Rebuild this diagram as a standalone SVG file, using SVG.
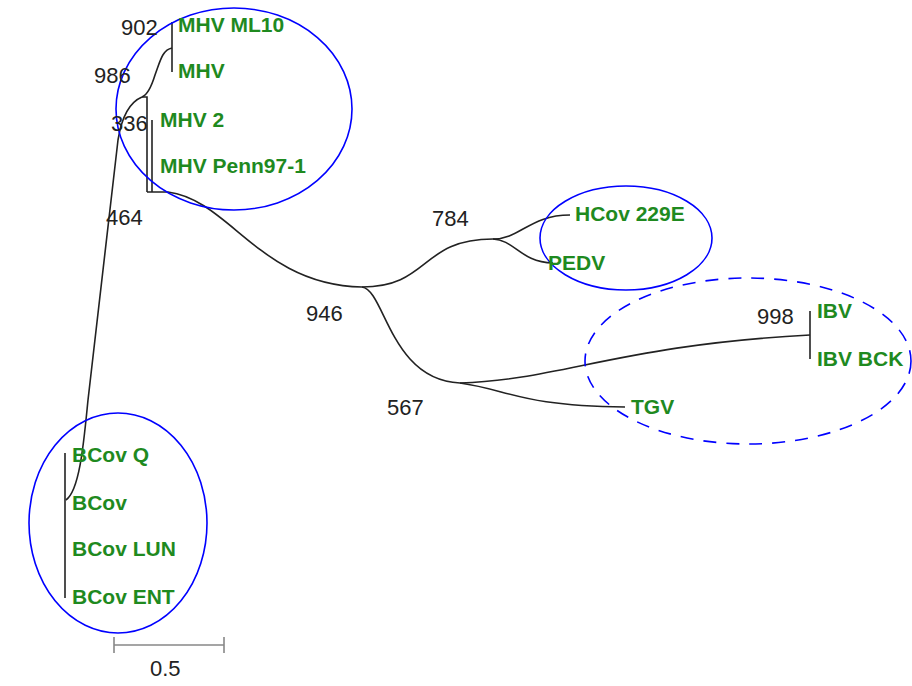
<svg xmlns="http://www.w3.org/2000/svg" width="912" height="686" viewBox="0 0 912 686">
<style>
.br{fill:none;stroke:#222;stroke-width:1.6}
.lbl{font-family:"Liberation Sans",Arial,sans-serif;font-weight:bold;font-size:21px;fill:#1f8a1f}
.num{font-family:"Liberation Sans",Arial,sans-serif;font-size:22px;fill:#222}
.ell{fill:none;stroke:#0000ff;stroke-width:1.6}
.dash{stroke-dasharray:13 10}
</style>
<rect width="912" height="686" fill="#fff"/>
<g id="connectors">
<path class="br" d="M172,22 L172,72"/>
<path class="br" d="M172,48 C162,50 160,62 155,75 C151,88 147,95 142,97"/>
<path class="br" d="M142,97 C130,102 122,115 118,140 L88,400 C84,440 80,490 66,500"/>
<path class="br" d="M142,97 L147,97 L147,192"/>
<path class="br" d="M152,120 L152,192"/>
<path class="br" d="M147,192 L168,192 C230,200 260,285 362,287"/>
<path class="br" d="M65,453 L65,598"/>
<path class="br" d="M362,287 C430,287 420,239 493,239"/>
<path class="br" d="M493,239 C520,239 530,215 570,215"/>
<path class="br" d="M493,239 C515,240 520,262 553,263"/>
<path class="br" d="M362,287 C385,290 390,380 460,383"/>
<path class="br" d="M460,383 C560,380 620,345 810,335"/>
<path class="br" d="M460,383 C510,390 520,406 625,407"/>
<path class="br" d="M810,311 L810,359"/>
</g>
<g id="clusters">
<ellipse class="ell" cx="234" cy="109" rx="118" ry="101"/>
<ellipse class="ell" cx="626" cy="238" rx="86" ry="52"/>
<ellipse class="ell dash" cx="748" cy="361" rx="163" ry="83"/>
<ellipse class="ell" cx="118" cy="523" rx="89" ry="110"/>
</g>
<g id="leaves">
<text class="lbl" x="178" y="32">MHV ML10</text>
<text class="lbl" x="178" y="78">MHV</text>
<text class="lbl" x="160" y="127">MHV 2</text>
<text class="lbl" x="160" y="173">MHV Penn97-1</text>
<text class="lbl" x="575" y="221">HCov 229E</text>
<text class="lbl" x="548" y="270">PEDV</text>
<text class="lbl" x="817" y="318">IBV</text>
<text class="lbl" x="817" y="366">IBV BCK</text>
<text class="lbl" x="631" y="414">TGV</text>
<text class="lbl" x="72" y="462">BCov Q</text>
<text class="lbl" x="72" y="510">BCov</text>
<text class="lbl" x="72" y="556">BCov LUN</text>
<text class="lbl" x="72" y="604">BCov ENT</text>
</g>
<g id="bootstrap">
<text class="num" x="121" y="35">902</text>
<text class="num" x="94" y="83">986</text>
<text class="num" x="111" y="131">336</text>
<text class="num" x="106" y="225">464</text>
<text class="num" x="432" y="226">784</text>
<text class="num" x="306" y="321">946</text>
<text class="num" x="757" y="324">998</text>
<text class="num" x="387" y="415">567</text>
</g>
<g id="scale">
<path d="M114,645 L224,645 M114,637 L114,653 M224,637 L224,653" fill="none" stroke="#888" stroke-width="1.6"/>
<text class="num" x="150" y="676">0.5</text>
</g>
</svg>
